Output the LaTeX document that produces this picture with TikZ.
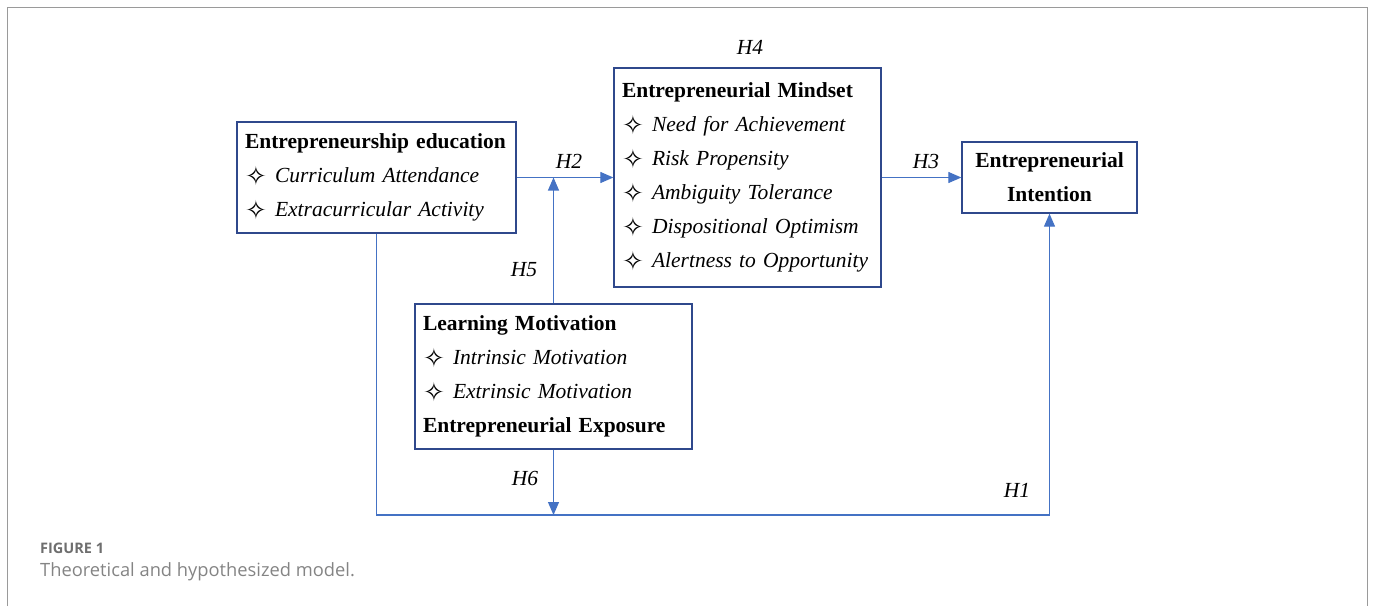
\documentclass[tikz,border=0pt]{standalone}
\usepackage{fontspec}
\setmainfont{Liberation Serif}
\newfontfamily\symfont{DejaVu Sans}
\newfontfamily\capfont{Open Sans}
\usepackage{tikz}
\usetikzlibrary{arrows.meta}

\definecolor{boxblue}{RGB}{47,72,140}
\definecolor{arrowblue}{RGB}{68,114,196}
\definecolor{capgray}{RGB}{110,110,110}

\newcommand{\itm}[1]{\makebox[30pt][l]{\raisebox{-2.5pt}{\symfont\fontsize{26}{34}\selectfont ✧}}\textit{#1}}

\tikzset{
	modelbox/.style={draw=boxblue,line width=1.3pt,inner xsep=8pt,inner ysep=0pt,align=left,
		font=\fontsize{21.5}{34}\selectfont},
	conn/.style={draw=arrowblue,line width=1.1pt,-{Triangle[length=13pt,width=11pt]}},
	hyp/.style={font=\fontsize{21.5}{26}\selectfont\itshape}
}

\begin{document}
\begin{tikzpicture}[x=1pt,y=-1pt]
		\useasboundingbox (0,0) rectangle (1373,606);
		\draw[capgray!70,line width=1pt] (7,606) -- (7,7) -- (1367,7) -- (1367,606);

		\node[modelbox,text width=263pt,minimum height=111pt] (edu) at (376.5,177.5)
			{\textbf{Entrepreneurship education}\\ \itm{Curriculum Attendance}\\ \itm{Extracurricular Activity}};
		\node[modelbox,text width=251pt,minimum height=219pt] (mind) at (747.5,177.5)
			{\textbf{Entrepreneurial Mindset}\\ \itm{Need for Achievement}\\ \itm{Risk Propensity}\\
			 \itm{Ambiguity Tolerance}\\ \itm{Dispositional Optimism}\\ \itm{Alertness to Opportunity}};
		\node[modelbox,text width=159pt,minimum height=71pt,align=center] (intent) at (1049.5,177.5)
			{\textbf{Entrepreneurial}\\ \textbf{Intention}};
		\node[modelbox,text width=261pt,minimum height=145pt] (learn) at (553.5,376.5)
			{\textbf{Learning Motivation}\\ \itm{Intrinsic Motivation}\\ \itm{Extrinsic Motivation}\\
			 \textbf{Entrepreneurial Exposure}};

		% junctions on the paths
		\coordinate (j2) at (learn.north |- edu.east);
		\coordinate (j6) at (553.5,515);

		\draw[conn] (edu.east) -- (mind.west);
		\draw[conn] (mind.east) -- (intent.west);
		\draw[conn] (learn.north) -- (j2);
		\draw[conn] (learn.south) -- (j6);
		\draw[conn] (edu.south) |- (intent.south |- j6) -- (intent.south);

		\node[hyp] (h1) at (1017,490) {H1};
		\node[hyp] (h2) at (569,161) {H2};
		\node[hyp] (h3) at (926,161) {H3};
		\node[hyp] (h4) at (750,47) {H4};
		\node[hyp] (h5) at (524,270) {H5};
		\node[hyp] (h6) at (525,478) {H6};

		\node[anchor=west,inner sep=0pt,text=capgray,font=\capfont\bfseries\fontsize{14.5}{16}\selectfont] (fig) at (40,548) {FIGURE 1};
		\node[anchor=west,inner sep=0pt,text=capgray!85,font=\capfont\fontsize{18.3}{20}\selectfont] (cap) at (40,572) {Theoretical and hypothesized model.};
	\end{tikzpicture}
\end{document}
